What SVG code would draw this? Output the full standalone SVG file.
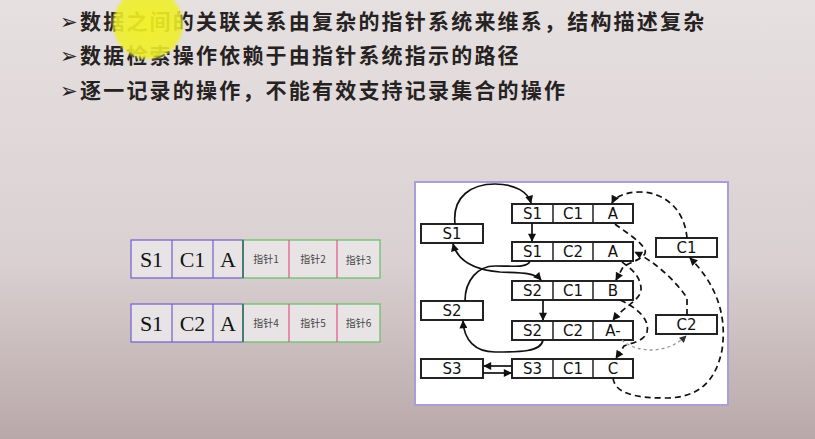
<svg xmlns="http://www.w3.org/2000/svg" width="815" height="439" viewBox="0 0 815 439">
<defs>
<linearGradient id="bg" x1="0" y1="0" x2="0" y2="1">
<stop offset="0" stop-color="#e6e0e1"/>
<stop offset="0.6" stop-color="#dad0d1"/>
<stop offset="1" stop-color="#b9a8a9"/>
</linearGradient>
<radialGradient id="hl" cx="0.5" cy="0.5" r="0.5">
<stop offset="0" stop-color="#f2f21e" stop-opacity="0.92"/>
<stop offset="0.88" stop-color="#eeee2a" stop-opacity="0.88"/>
<stop offset="1" stop-color="#eeee2a" stop-opacity="0"/>
</radialGradient>
<marker id="ah" viewBox="0 0 10 10" refX="9" refY="5" markerWidth="9" markerHeight="8" markerUnits="userSpaceOnUse" orient="auto-start-reverse">
<path d="M0,0 L10,5 L0,10 z" fill="#111"/>
</marker>
<marker id="ahg" viewBox="0 0 10 10" refX="9" refY="5" markerWidth="8" markerHeight="7" markerUnits="userSpaceOnUse" orient="auto">
<path d="M0,0 L10,5 L0,10 z" fill="#333"/>
</marker>
</defs>
<style>
.hd{font-family:"Noto Sans CJK SC","Noto Sans",sans-serif;font-size:21px;font-weight:bold;fill:#262222;letter-spacing:2.2px}
.bul{font-family:"DejaVu Sans",sans-serif;font-size:21px;fill:#262222}
.cp{fill:none;stroke:#7868cc;stroke-width:1.3}
.pg{fill:none;stroke:#6cc06c;stroke-width:1.3}
.pk{stroke:#e0608c;stroke-width:1.3}
.tm{font-family:"Liberation Serif",serif;font-size:22px;fill:#111;text-anchor:middle}
.pt{font-family:"Noto Sans CJK SC",sans-serif;font-size:10px;fill:#444;text-anchor:middle}
.bx{fill:#fff;stroke:#222;stroke-width:2}
.dv{stroke:#222;stroke-width:1.5}
.rt{font-family:"DejaVu Sans",sans-serif;font-size:15px;fill:#111;text-anchor:middle}
.sl{fill:none;stroke:#111;stroke-width:1.7}
.ds{fill:none;stroke:#111;stroke-width:1.7;stroke-dasharray:6 4}
.dt{fill:none;stroke:#999;stroke-width:1.3;stroke-dasharray:3 3}
</style>
<rect width="815" height="439" fill="url(#bg)"/>

<g id="header">
<text class="bul" x="60" y="29">➢</text>
<text class="hd" x="80" y="29">数据之间的关联关系由复杂的指针系统来维系，结构描述复杂</text>
<text class="bul" x="60" y="63">➢</text>
<text class="hd" x="80" y="63">数据检索操作依赖于由指针系统指示的路径</text>
<text class="bul" x="60" y="98">➢</text>
<text class="hd" x="80" y="98">逐一记录的操作，不能有效支持记录集合的操作</text>
</g>
<circle cx="148" cy="24" r="37" fill="url(#hl)"/>

<g id="record1">
<rect x="131" y="240" width="112" height="38" fill="#e8e4e6"/>
<rect x="243" y="240" width="137" height="38" fill="#e8e4e6"/>
<rect class="cp" x="131" y="240" width="112" height="38"/>
<line class="cp" x1="172" y1="240" x2="172" y2="278"/>
<line class="cp" x1="213" y1="240" x2="213" y2="278"/>
<rect class="pg" x="243" y="240" width="137" height="38"/>
<line x1="243" y1="240" x2="243" y2="278" stroke="#2f5f66" stroke-width="1.3"/>
<line class="pk" x1="289" y1="240" x2="289" y2="278"/>
<line class="pk" x1="337" y1="240" x2="337" y2="278"/>
<text class="tm" x="151.5" y="267">S1</text>
<text class="tm" x="192.5" y="267">C1</text>
<text class="tm" x="228" y="267">A</text>
<text class="pt" x="266" y="263">指针1</text>
<text class="pt" x="313" y="263">指针2</text>
<text class="pt" x="358.5" y="264">指针3</text>
</g>

<g id="record2">
<rect x="131" y="304" width="112" height="38" fill="#e8e4e6"/>
<rect x="243" y="304" width="137" height="38" fill="#e8e4e6"/>
<rect class="cp" x="131" y="304" width="112" height="38"/>
<line class="cp" x1="172" y1="304" x2="172" y2="342"/>
<line class="cp" x1="213" y1="304" x2="213" y2="342"/>
<rect class="pg" x="243" y="304" width="137" height="38"/>
<line x1="243" y1="304" x2="243" y2="342" stroke="#2f5f66" stroke-width="1.3"/>
<line class="pk" x1="289" y1="304" x2="289" y2="342"/>
<line class="pk" x1="337" y1="304" x2="337" y2="342"/>
<text class="tm" x="151.5" y="331">S1</text>
<text class="tm" x="192.5" y="331">C2</text>
<text class="tm" x="228" y="331">A</text>
<text class="pt" x="266" y="327">指针4</text>
<text class="pt" x="313" y="327">指针5</text>
<text class="pt" x="358.5" y="327">指针6</text>
</g>

<g id="panel">
<rect x="415" y="182" width="313" height="223" fill="#fff" stroke="#a89ed8" stroke-width="2"/>
</g>

<g id="box-S1"><rect class="bx" x="421" y="224" width="62" height="19"/><text class="rt" x="452" y="239">S1</text></g>
<g id="box-S2"><rect class="bx" x="421" y="301" width="62" height="19"/><text class="rt" x="452" y="316">S2</text></g>
<g id="box-S3"><rect class="bx" x="421" y="359" width="62" height="19"/><text class="rt" x="452" y="374">S3</text></g>
<g id="box-C1"><rect class="bx" x="656" y="238" width="61" height="19"/><text class="rt" x="686.5" y="253">C1</text></g>
<g id="box-C2"><rect class="bx" x="656" y="315" width="61" height="19"/><text class="rt" x="686.5" y="330">C2</text></g>

<g id="row-S1C1A"><rect class="bx" x="512" y="204" width="121" height="19"/><line class="dv" x1="553" y1="204" x2="553" y2="223"/><line class="dv" x1="593" y1="204" x2="593" y2="223"/><text class="rt" x="532.5" y="219">S1</text><text class="rt" x="573" y="219">C1</text><text class="rt" x="613" y="219">A</text></g>
<g id="row-S1C2A"><rect class="bx" x="512" y="242" width="121" height="19"/><line class="dv" x1="553" y1="242" x2="553" y2="261"/><line class="dv" x1="593" y1="242" x2="593" y2="261"/><text class="rt" x="532.5" y="257">S1</text><text class="rt" x="573" y="257">C2</text><text class="rt" x="613" y="257">A</text></g>
<g id="row-S2C1B"><rect class="bx" x="512" y="281" width="121" height="19"/><line class="dv" x1="553" y1="281" x2="553" y2="300"/><line class="dv" x1="593" y1="281" x2="593" y2="300"/><text class="rt" x="532.5" y="296">S2</text><text class="rt" x="573" y="296">C1</text><text class="rt" x="613" y="296">B</text></g>
<g id="row-S2C2A-"><rect class="bx" x="512" y="321" width="121" height="19"/><line class="dv" x1="553" y1="321" x2="553" y2="340"/><line class="dv" x1="593" y1="321" x2="593" y2="340"/><text class="rt" x="532.5" y="336">S2</text><text class="rt" x="573" y="336">C2</text><text class="rt" x="613" y="336">A-</text></g>
<g id="row-S3C1C"><rect class="bx" x="512" y="359" width="121" height="19"/><line class="dv" x1="553" y1="359" x2="553" y2="378"/><line class="dv" x1="593" y1="359" x2="593" y2="378"/><text class="rt" x="532.5" y="374">S3</text><text class="rt" x="573" y="374">C1</text><text class="rt" x="613" y="374">C</text></g>

<g id="connectors">
<path class="sl" d="M455 224 C452 196 472 184 495 184 C515 184 528 192 531 203" marker-end="url(#ah)"/>
<path class="sl" d="M532 223 L532 241" marker-end="url(#ah)"/>
<path class="sl" d="M453 244 C458 262 476 270 500 272 C520 273 534 272 541 280" marker-start="url(#ah)" marker-end="url(#ah)"/>
<path class="sl" d="M530 261 C528 268 512 266 495 266 C478 266 465 280 465 301"/>
<path class="sl" d="M543 300 L543 320" marker-end="url(#ah)"/>
<path class="sl" d="M543 340 C541 352 520 352 495 352 C475 352 464 340 463 321" marker-end="url(#ah)"/>
<path class="sl" d="M512 366 L484 366" marker-end="url(#ah)"/>
<path class="sl" d="M483 373 L511 373" marker-end="url(#ah)"/>

<path class="ds" d="M687 238 C684 205 660 192 640 192 C625 192 615 197 612 203" marker-end="url(#ah)"/>
<path class="ds" d="M615 224 C625 232 640 240 645 250 C648 258 630 262 623 267 L616 280" marker-end="url(#ah)"/>
<path class="ds" d="M620 300 C638 308 650 320 647 332 C644 342 630 343 624 346 L616 358" marker-end="url(#ah)"/>
<path class="ds" d="M613 378 C615 395 640 398 665 398 C700 398 716 380 722 350 C728 310 712 280 690 258" marker-end="url(#ah)"/>
<path class="ds" d="M687 315 L687 298 C675 280 655 262 635 252" marker-end="url(#ah)"/>
<path class="ds" d="M622 262 C630 268 640 275 641 288 C642 300 625 305 613 320" marker-end="url(#ah)"/>
<path class="dt" d="M622 340 C635 352 665 356 686 336" marker-end="url(#ahg)"/>
</g>
</svg>
